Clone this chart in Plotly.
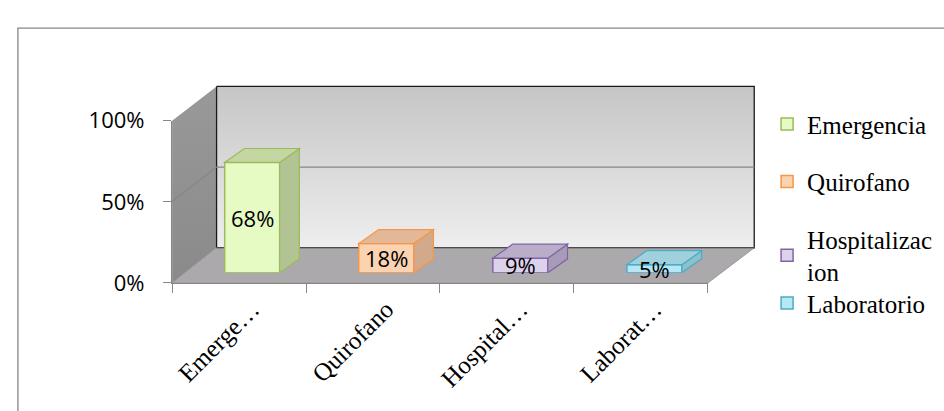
import plotly.graph_objects as go

# ---------------- data ----------------
categories = ["Emergencia", "Quirofano", "Hospitalizacion", "Laboratorio"]
legend_names = ["Emergencia", "Quirofano", "Hospitalizac<br>ion", "Laboratorio"]
tick_labels = ["Emerge…", "Quirofano", "Hospital…", "Laborat…"]
values = [0.68, 0.18, 0.09, 0.05]
value_labels = ["68%", "18%", "9%", "5%"]
y_tickvals = [0, 0.5, 1]
y_ticktext = ["0%", "50%", "100%"]

# ---------------- styles ----------------
front_colors = ["#e6fac4", "#fbd3b1", "#ddd2ec", "#b5e8f4"]
edge_colors = ["#9bbb59", "#f79646", "#8064a2", "#4bacc6"]
top_colors = ["#c4d6a2", "#e3b898", "#b9adc9", "#9fd0dc"]
side_colors = ["#b2c494", "#d2a98a", "#a79bb8", "#8cc0cc"]

W, H = 944, 411
BAR_W = 0.41      # bar front width (category units)
DX = 0.147        # depth offset x (category units)
DY = 0.086        # depth offset y (value units)

fig = go.Figure()

# ---- decorative 3-D box (pixel axes: x, y) ----
def poly(xs, ys, fill=None, grad=None, line=None):
    tr = go.Scatter(x=xs + [xs[0]], y=ys + [ys[0]], mode="lines", fill="toself",
                    line=line or dict(width=0), hoverinfo="skip", showlegend=False,
                    xaxis="x", yaxis="y")
    if grad:
        tr.fillgradient = grad
    else:
        tr.fillcolor = fill
    fig.add_trace(tr)

# left wall
poly([163, 208, 208, 163], [113, 76, 250, 288],
     grad=dict(type="vertical", colorscale=[[0, "#8a8a8a"], [1, "#9a999a"]]))
# back wall
poly([208, 752, 752, 208], [76, 76, 250, 250],
     grad=dict(type="vertical", colorscale=[[0, "#eeeeee"], [1, "#c6c6c6"]]),
     line=dict(color="#1a1a1a", width=1.3))
# floor
poly([163, 208, 752, 705], [288, 250, 250, 288], fill="#aca9ac",
     line=dict(color="#9a979a", width=1))
# gridline 50%
fig.add_trace(go.Scatter(x=[163, 208, 752], y=[200, 163, 163], mode="lines",
                         line=dict(color="#868686", width=1.3), hoverinfo="skip",
                         showlegend=False, xaxis="x", yaxis="y"))
# back wall bottom edge
fig.add_trace(go.Scatter(x=[208, 752], y=[250, 250], mode="lines",
                         line=dict(color="#3a3a3a", width=1.2), hoverinfo="skip",
                         showlegend=False, xaxis="x", yaxis="y"))

# ---- bars (x2, y2) ----
for i, (cat, v) in enumerate(zip(categories, values)):
    fig.add_trace(go.Bar(
        x=[i], y=[v], width=BAR_W, name=legend_names[i], legendgroup=cat,
        marker=dict(color=front_colors[i], line=dict(color=edge_colors[i], width=1.5)),
        xaxis="x2", yaxis="y2", hoverinfo="skip",
        legend="legend2" if i == 3 else "legend",
    ))

shapes = []
for i, v in enumerate(values):
    x0 = i - BAR_W / 2
    x1 = i + BAR_W / 2
    shapes.append(dict(type="path", xref="x2", yref="y2", layer="above",
                       path=f"M {x1},0 L {x1+DX},{DY} L {x1+DX},{v+DY} L {x1},{v} Z",
                       fillcolor=side_colors[i], line=dict(color=edge_colors[i], width=1.2)))
    shapes.append(dict(type="path", xref="x2", yref="y2", layer="above",
                       path=f"M {x0},{v} L {x1},{v} L {x1+DX},{v+DY} L {x0+DX},{v+DY} Z",
                       fillcolor=top_colors[i], line=dict(color=edge_colors[i], width=1.2)))
# outer chart border
shapes.append(dict(type="rect", xref="paper", yref="paper", x0=7 / W, x1=1.05,
                   y0=-0.05, y1=1 - 13 / H, line=dict(color="#868686", width=1.3),
                   fillcolor="rgba(0,0,0,0)"))

annotations = []
for i, v in enumerate(values):
    annotations.append(dict(x=i, y=v / 2, xref="x2", yref="y2", text=value_labels[i],
                            showarrow=False, font=dict(family="Open Sans", size=22, color="#000")))

# ---- front axis (x3, y3) ----
fig.add_trace(go.Scatter(x=list(range(len(values))), y=values, mode="markers",
                         marker=dict(opacity=0), hoverinfo="skip", showlegend=False,
                         xaxis="x3", yaxis="y3"))

fig.update_layout(
    width=W, height=H, margin=dict(l=0, r=0, t=0, b=0),
    paper_bgcolor="white", plot_bgcolor="rgba(0,0,0,0)",
    barmode="overlay", hovermode=False,
    xaxis=dict(domain=[0, 1], range=[0, W], visible=False, fixedrange=True),
    yaxis=dict(domain=[0, 1], range=[H, 0], visible=False, fixedrange=True),
    xaxis2=dict(domain=[176.2 / W, 718.8 / W], range=[-0.5, 3.5], anchor="free",
                position=(H - 290) / H, showgrid=False, zeroline=False, showline=False,
                tickvals=list(range(len(tick_labels))), ticktext=tick_labels,
                tickangle=-45, ticks="", ticklabelstandoff=4,
                tickfont=dict(family="Liberation Serif", size=25, color="#000")),
    yaxis2=dict(domain=[(H - 277) / H, (H - 102) / H], range=[0, 1], anchor="x2",
                visible=False),
    xaxis3=dict(domain=[163 / W, 705 / W], range=[-0.5, 3.5], anchor="y3",
                showgrid=False, zeroline=False, showline=True, linecolor="#868686",
                linewidth=1.3, tickvals=[-0.5, 0.5, 1.5, 2.5, 3.5], ticks="outside",
                ticklen=9, tickcolor="#868686", tickwidth=1.3, showticklabels=False),
    yaxis3=dict(domain=[(H - 288) / H, (H - 113) / H], range=[0, 1], anchor="x3",
                showgrid=False, zeroline=False, showline=True, linecolor="#868686",
                linewidth=1.3, tickvals=y_tickvals, ticktext=y_ticktext,
                ticks="outside", ticklen=8, tickcolor="#868686", tickwidth=1.3,
                ticklabelstandoff=14,
                tickfont=dict(family="Open Sans", size=22, color="#000")),
    legend=dict(x=765 / W, y=1 - 92 / H, xanchor="left", yanchor="top",
                font=dict(family="Liberation Serif", size=25, color="#000"),
                tracegroupgap=22, traceorder="grouped", bgcolor="rgba(0,0,0,0)"),
    legend2=dict(x=765 / W, y=1 - 285 / H, xanchor="left", yanchor="top",
                 font=dict(family="Liberation Serif", size=25, color="#000"),
                 bgcolor="rgba(0,0,0,0)"),
    shapes=shapes, annotations=annotations,
)

fig.write_html("out.html")
